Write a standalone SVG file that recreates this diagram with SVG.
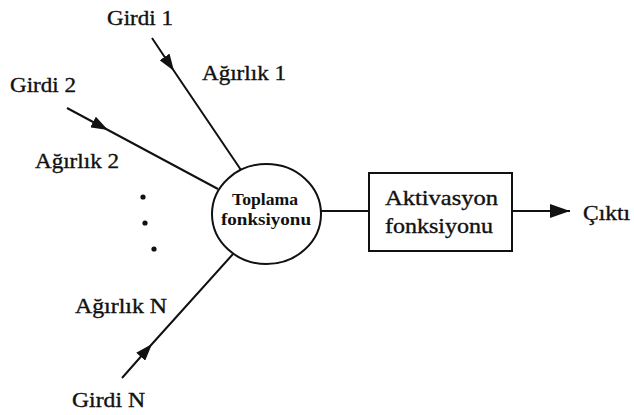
<svg xmlns="http://www.w3.org/2000/svg" width="634" height="415" viewBox="0 0 634 415">
<style>
.t{font-family:"Liberation Serif","Times New Roman",serif;font-size:21px;fill:#111;stroke:#111;stroke-width:0.35}
.b{font-family:"Liberation Serif","Times New Roman",serif;font-size:16px;font-weight:bold;fill:#111}
.ln{stroke:#111;stroke-width:2;fill:none}
.nd{stroke:#111;stroke-width:2;fill:#fff}
</style>
<defs>
<marker id="ah" markerUnits="userSpaceOnUse" viewBox="0 0 17 12" refX="17" refY="6" markerWidth="17" markerHeight="12" orient="auto"><path d="M0,0 L17,6 L0,12 z" fill="#111"/></marker>
<marker id="ao" markerUnits="userSpaceOnUse" viewBox="0 0 20 14" refX="20" refY="7" markerWidth="20" markerHeight="14" orient="auto"><path d="M0,0 L20,7 L0,14 z" fill="#111"/></marker>
</defs>
<rect width="634" height="415" fill="#fff"/>
<g id="connectors">
<path class="ln" d="M152,38 L174,71 L241,170" marker-mid="url(#ah)"/>
<path class="ln" d="M67,108 L108,130 L218,189" marker-mid="url(#ah)"/>
<path class="ln" d="M122,378 L152,344 L233,254" marker-mid="url(#ah)"/>
<path class="ln" d="M321,211 L369,211"/>
<path class="ln" d="M512,211 L570,211" marker-end="url(#ao)"/>
</g>
<g id="dots" fill="#111">
<circle cx="143" cy="197" r="2.6"/>
<circle cx="145" cy="223" r="2.6"/>
<circle cx="154" cy="249" r="2.6"/>
</g>
<g id="girdi1"><text class="t" x="107" y="25" textLength="66" lengthAdjust="spacingAndGlyphs">Girdi 1</text></g>
<g id="agirlik1"><text class="t" x="202" y="80" textLength="84" lengthAdjust="spacingAndGlyphs">Ağırlık 1</text></g>
<g id="girdi2"><text class="t" x="10" y="92" textLength="66" lengthAdjust="spacingAndGlyphs">Girdi 2</text></g>
<g id="agirlik2"><text class="t" x="35" y="168" textLength="84" lengthAdjust="spacingAndGlyphs">Ağırlık 2</text></g>
<g id="agirlikN"><text class="t" x="75" y="313" textLength="92" lengthAdjust="spacingAndGlyphs">Ağırlık N</text></g>
<g id="girdiN"><text class="t" x="72" y="407" textLength="73" lengthAdjust="spacingAndGlyphs">Girdi N</text></g>
<g id="toplama">
<ellipse class="nd" cx="266.5" cy="214" rx="54.5" ry="50"/>
<text class="b" x="232" y="205" textLength="66" lengthAdjust="spacingAndGlyphs">Toplama</text>
<text class="b" x="221" y="225" textLength="90" lengthAdjust="spacingAndGlyphs">fonksiyonu</text>
</g>
<g id="aktivasyon">
<rect class="nd" x="369" y="173" width="143" height="78"/>
<text class="t" x="385" y="205" textLength="113" lengthAdjust="spacingAndGlyphs">Aktivasyon</text>
<text class="t" x="385" y="233" textLength="108" lengthAdjust="spacingAndGlyphs">fonksiyonu</text>
</g>
<g id="cikti"><text class="t" x="583" y="220" textLength="47" lengthAdjust="spacingAndGlyphs">Çıktı</text></g>
</svg>
